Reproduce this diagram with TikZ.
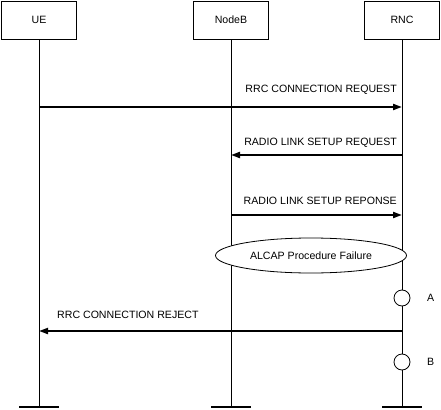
\documentclass[tikz,border=0pt]{standalone}
\usepackage{fontspec}
\setmainfont{Liberation Sans}
\usetikzlibrary{arrows.meta,shapes.geometric}
\begin{document}
\begin{tikzpicture}[x=1pt,y=-1pt,
  font=\fontsize{10.6}{12}\selectfont,
  entity/.style={draw,line width=0.8pt,minimum width=75pt,minimum height=38pt,inner sep=0pt},
  life/.style={line width=0.8pt},
  foot/.style={line width=1.6pt},
  msg/.style={line width=2pt,-{Triangle[length=9pt,width=6pt]}},
  lbl/.style={inner sep=0pt},
  state/.style={draw,circle,fill=white,line width=0.8pt,minimum size=16pt,inner sep=0pt}]
\useasboundingbox (0,0) rectangle (441,409);
\node[entity] (ue) at (39,20) {UE};
\node[entity] (nb) at (231,20) {NodeB};
\node[entity] (rnc) at (402,20) {RNC};
\coordinate (ueb) at (39,407);
\coordinate (nbb) at (231,407);
\coordinate (rncb) at (402,407);
\draw[life] (ue.south) -- (ueb);
\draw[life] (nb.south) -- (nbb);
\draw[life] (rnc.south) -- (rncb);
\draw[foot] ([xshift=-20pt]ueb) -- ([xshift=20pt]ueb);
\draw[foot] ([xshift=-20pt]nbb) -- ([xshift=20pt]nbb);
\draw[foot] ([xshift=-20pt]rncb) -- ([xshift=20pt]rncb);
% messages
\coordinate (m1s) at (39,107);
\coordinate (m1e) at (402,107);
\draw[msg] (m1s) -- (m1e);
\node[lbl,anchor=base east] (l1) at (397,93) {RRC CONNECTION REQUEST};
\coordinate (m2s) at (402,155);
\coordinate (m2e) at (231,155);
\draw[msg] (m2s) -- (m2e);
\node[lbl,anchor=base east] (l2) at (397,145) {RADIO LINK SETUP REQUEST};
\coordinate (m3s) at (231,215);
\coordinate (m3e) at (402,215);
\draw[msg] (m3s) -- (m3e);
\node[lbl,anchor=base east] (l3) at (397,204) {RADIO LINK SETUP REPONSE};
\node[draw,ellipse,fill=white,line width=0.8pt,minimum width=191pt,minimum height=35pt,inner sep=0pt] (alcap) at (311,255.5) {ALCAP Procedure Failure};
\node[state] (sa) at (402,298) {};
\node[lbl,anchor=west] (la) at (427,298) {A};
\coordinate (m4s) at (402,331);
\coordinate (m4e) at (39,331);
\draw[msg] (m4s) -- (m4e);
\node[lbl,anchor=base west] (l4) at (57,318) {RRC CONNECTION REJECT};
\node[state] (sb) at (402,362) {};
\node[lbl,anchor=west] (lb) at (427,362) {B};
\end{tikzpicture}
\end{document}
